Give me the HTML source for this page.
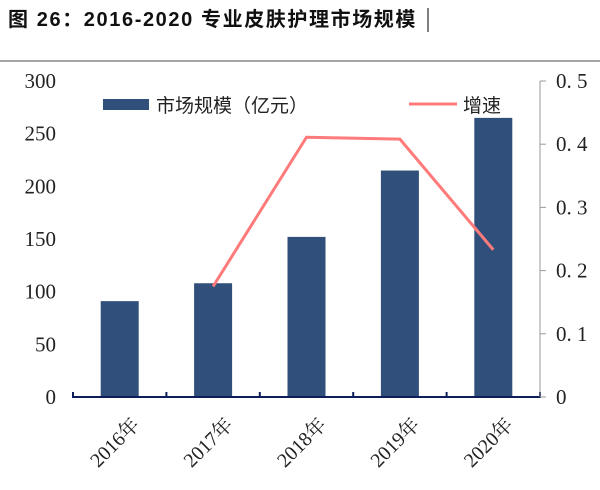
<!DOCTYPE html>
<html><head><meta charset="utf-8"><style>
body{margin:0;width:600px;height:490px;background:#fff;overflow:hidden}
svg{display:block}
</style></head><body>
<svg width="600" height="490">
<text x="8" y="26" font-family="'Liberation Sans','Noto Sans CJK SC',sans-serif" font-weight="bold" font-size="20" letter-spacing="1.6" fill="#111">图 26：2016-2020 专业皮肤护理市场规模</text>
<line x1="428" y1="8" x2="428" y2="32" stroke="#000" stroke-width="1"/>
<line x1="0" y1="61" x2="600" y2="61" stroke="#888" stroke-width="1.5"/>
<g id="plot"></g>
</svg>
<script>
const categories=["2016年","2017年","2018年","2019年","2020年"];
const marketSize=[91,108,152,215,265];
const growth=[null,0.175,0.411,0.408,0.233];
const leftTicks=[0,50,100,150,200,250,300];
const rightTicks=[0,0.1,0.2,0.3,0.4,0.5];
const rightTickLabels=["0","0. 1","0. 2","0. 3","0. 4","0. 5"];
const NS="http://www.w3.org/2000/svg";
const g=document.getElementById("plot");
const x0=73,x1=540,yb=397,yt=81;
const band=(x1-x0)/categories.length;
const xc=i=>x0+band*(i+0.5);
const yL=v=>yb-(v/300)*(yb-yt);
const yR=v=>yb-(v/0.5)*(yb-yt);
function mk(t,a){const e=document.createElementNS(NS,t);for(const k in a)e.setAttribute(k,a[k]);g.appendChild(e);return e;}
const serif="'Liberation Serif','Noto Serif CJK SC',serif";
marketSize.forEach((v,i)=>{
 const b=mk("rect",{x:xc(i)-19,y:yL(v),width:38,height:yb-yL(v),fill:"#304f7a"});
 
 
});
const ax=mk("line",{x1:x0,y1:yb,x2:x1,y2:yb,stroke:"#0e1e5b","stroke-width":2});


for(let i=0;i<=categories.length;i++){
 const t=mk("line",{x1:x0+band*i,y1:yb-5,x2:x0+band*i,y2:yb+1,stroke:"#0e1e5b","stroke-width":2});
 
 
}
categories.forEach((c,i)=>{
 const t=mk("text",{x:0,y:0,"font-family":serif,"font-size":20,fill:"#222","text-anchor":"end",transform:`translate(${xc(i)+21},${yb+29}) rotate(-45)`});
 t.textContent=c;
 
 
});
leftTicks.forEach(v=>{
 const t=mk("text",{x:56,y:yL(v)+7,"font-family":serif,"font-size":21,fill:"#222","text-anchor":"end"});
 t.textContent=v;
 
 
});
const ra=mk("line",{x1:x1,y1:yt,x2:x1,y2:yb,stroke:"#999","stroke-width":1});


rightTicks.forEach((v,i)=>{
 const tk=mk("line",{x1:x1,y1:yR(v),x2:x1+6,y2:yR(v),stroke:"#999","stroke-width":1});
 
 
 const t=mk("text",{x:556,y:yR(v)+7,"font-family":serif,"font-size":21,fill:"#222"});
 t.textContent=rightTickLabels[i];
 
 
});
const pts=growth.map((v,i)=>v==null?null:`${xc(i)},${yR(v)}`).filter(p=>p).join(" ");
const pl=mk("polyline",{points:pts,fill:"none",stroke:"#ff7b7b","stroke-width":3});


const lr=mk("rect",{x:103,y:99,width:46,height:11,fill:"#304f7a"});


const lt=mk("text",{x:156,y:112,"font-family":"'Noto Sans CJK SC',sans-serif","font-size":19,fill:"#222"});
lt.textContent="市场规模（亿元）";


const ll=mk("line",{x1:409,y1:104,x2:457,y2:104,stroke:"#ff7b7b","stroke-width":3});


const lt2=mk("text",{x:463,y:112,"font-family":"'Noto Sans CJK SC',sans-serif","font-size":19,fill:"#222"});
lt2.textContent="增速";


</script>
</body></html>
